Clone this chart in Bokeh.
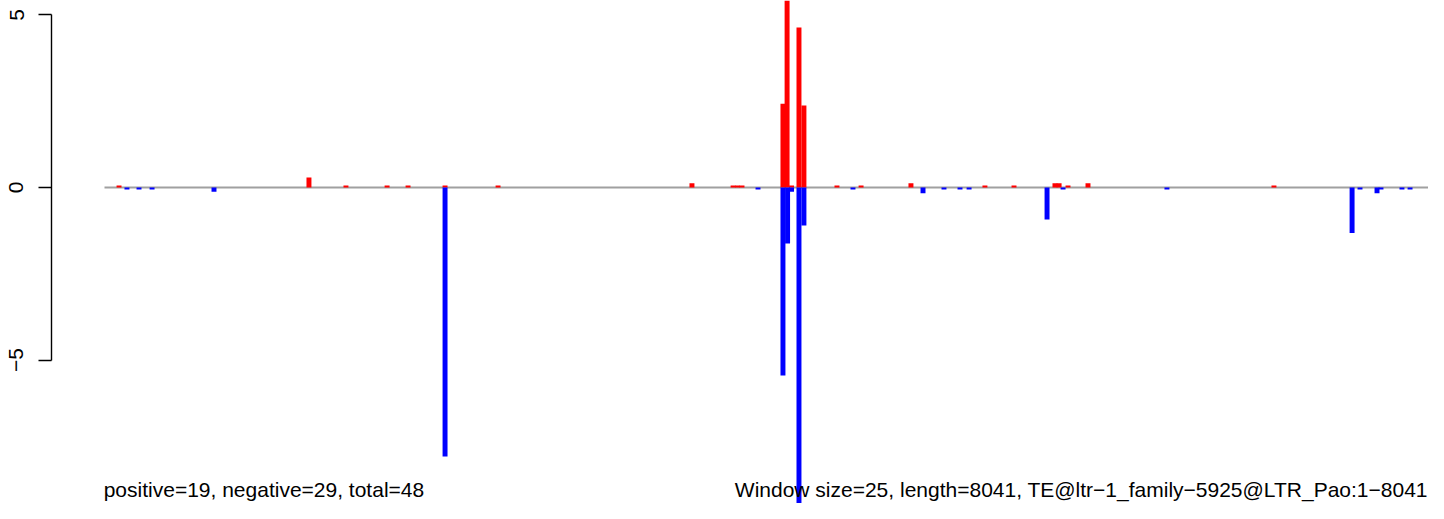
from bokeh.plotting import figure
from bokeh.models import Range1d, FixedTicker
from bokeh.core.properties import value
from bokeh.embed import file_html
from bokeh.resources import INLINE

# ---- data ----
seq_length = 8041
window_size = 25

pos_x = [88, 1238, 1462, 1711, 1838, 2062, 2383, 3557, 3806, 3833, 3860,
         4108, 4133, 4160, 4205, 4235, 4435, 4581, 4883, 5331, 5507,
         5755, 5780, 5834, 5955, 7081]
pos_y = [0.06, 0.29, 0.06, 0.06, 0.06, 0.06, 0.06, 0.12, 0.06, 0.06, 0.06,
         2.43, 5.60, 0.06, 4.64, 2.38, 0.06, 0.06, 0.12, 0.06, 0.06,
         0.12, 0.12, 0.06, 0.12, 0.06]

neg_x = [136, 209, 288, 663, 2062, 3957, 4108, 4136, 4160, 4205, 4235,
         4532, 4956, 5083, 5180, 5235, 5707, 5804, 6433, 7554, 7602,
         7705, 7729, 7856, 7905]
neg_y = [-0.06, -0.06, -0.06, -0.12, -7.80, -0.06, -5.45, -1.62, -0.12, -9.28, -1.10,
         -0.06, -0.17, -0.06, -0.06, -0.06, -0.93, -0.06, -0.06, -1.32, -0.06,
         -0.17, -0.06, -0.06, -0.06]

y_ticks = [-5, 0, 5]
y_tick_labels = {-5: "\u22125", 0: "0", 5: "5"}

left_note = "positive=19, negative=29, total=48"
right_note = ("Window size=25, length=8041, "
              "TE@ltr\u22121_family\u22125925@LTR_Pao:1\u22128041")

# ---- figure ----
FONT = "Liberation Sans"
p = figure(width=1428, height=503, output_backend="svg", toolbar_location=None,
           x_range=Range1d(-320.9, 8016.7), y_range=Range1d(-9.159, 5.42),
           x_axis_location=None, y_axis_location="left",
           min_border_left=51, min_border_right=0,
           min_border_top=0, min_border_bottom=0)
p.outline_line_color = None
p.grid.visible = False
p.background_fill_color = "white"
p.border_fill_color = "white"

# baseline
p.line(x=[0, seq_length], y=[0, 0], line_color="#A0A0A0", line_width=2)

bar_w = window_size * 1.2
p.vbar(x=pos_x, top=pos_y, bottom=0, width=bar_w,
       fill_color="#FF0000", line_color=None)
p.vbar(x=neg_x, top=0, bottom=neg_y, width=bar_w,
       fill_color="#0000FF", line_color=None)

# notes at bottom
p.text(x=[-5], y=[-9.10], text=[left_note], text_font=value(FONT),
       text_font_size="21px", text_align="left", text_baseline="bottom",
       text_color="black")
p.text(x=[8013], y=[-9.10], text=[right_note], text_font=value(FONT),
       text_font_size="21px", text_align="right", text_baseline="bottom",
       text_color="black")

# y axis (R style)
ax = p.yaxis[0]
ax.ticker = FixedTicker(ticks=y_ticks)
ax.major_label_overrides = y_tick_labels
ax.bounds = (-5, 5)
ax.major_label_orientation = "vertical"
ax.major_label_text_font = FONT
ax.major_label_text_font_size = "21px"
ax.major_label_text_color = "black"
ax.major_tick_out = 13
ax.major_tick_in = 0
ax.minor_tick_out = 0
ax.minor_tick_in = 0
ax.major_label_standoff = 15
ax.axis_line_width = 1.4
ax.major_tick_line_width = 1.4
ax.axis_line_color = "black"
ax.major_tick_line_color = "black"

open("out.html", "w").write(file_html(p, INLINE))
